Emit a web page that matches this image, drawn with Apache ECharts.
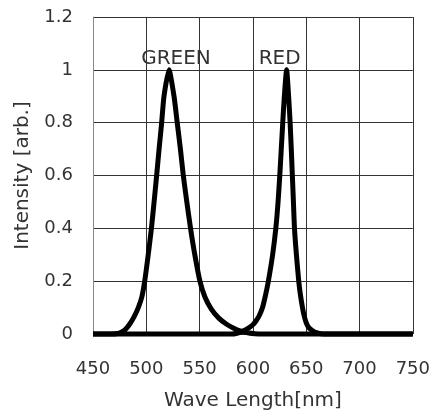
<!DOCTYPE html>
<html>
<head>
<meta charset="utf-8">
<script src="https://cdn.jsdelivr.net/npm/echarts@6/dist/echarts.min.js"></script>
<style>html,body{margin:0;padding:0;background:#fff;}#c{width:433px;height:416px;}</style>
</head>
<body>
<div id="c"></div>
<script>
// Wavelength (nm) and intensity values
var greenX = [450, 468, 473, 476, 480, 484, 488.5, 492.5, 495.8, 498.5, 501.8, 504.8, 507.3, 509.7, 512, 514.4, 516.6, 521.25, 526, 529, 532, 534.7, 538, 541.5, 545.5, 550.3, 555, 561, 568, 575, 582, 588, 595, 602, 610, 750];
var greenY = [0, 0, 0.002, 0.006, 0.016, 0.035, 0.065, 0.1, 0.14, 0.2, 0.3, 0.4, 0.5, 0.6, 0.7, 0.8, 0.9, 1.0, 0.9, 0.8, 0.7, 0.6, 0.5, 0.4, 0.3, 0.2, 0.14, 0.094, 0.06, 0.038, 0.022, 0.012, 0.005, 0.001, 0, 0];
var redX = [450, 580, 585, 590, 595, 600, 603, 606, 609, 612, 614.5, 618.5, 621.5, 623.6, 625.2, 626.6, 628, 629.5, 631.6, 633.5, 634.9, 636, 637, 638, 639, 640.8, 643, 644.5, 646.5, 648, 649.8, 651.5, 654, 658, 666, 750];
var redY = [0, 0, 0.003, 0.01, 0.02, 0.035, 0.05, 0.07, 0.1, 0.15, 0.2, 0.3, 0.4, 0.5, 0.6, 0.7, 0.8, 0.9, 1.0, 0.9, 0.8, 0.7, 0.6, 0.5, 0.4, 0.3, 0.2, 0.15, 0.1, 0.07, 0.045, 0.03, 0.018, 0.007, 0, 0];
var seriesNames = ['GREEN', 'RED'];
var xTicks = [450, 500, 550, 600, 650, 700, 750];
var yTicks = [0, 0.2, 0.4, 0.6, 0.8, 1, 1.2];
var xTitle = 'Wave Length[nm]';
var yTitle = 'Intensity [arb.]';

var FONT = 'DejaVu Sans';
var TXT = '#333';
function build(xs, ys, name, dx) {
  var peak = ys.indexOf(Math.max.apply(null, ys));
  return xs.map(function (x, i) {
    if (i === peak) {
      return {
        value: [x, ys[i]],
        symbol: 'circle', symbolSize: 1,
        label: { show: true, formatter: name, position: 'top', offset: [dx, 3],
          fontFamily: FONT, fontSize: 20, color: TXT, distance: 4 }
      };
    }
    return { value: [x, ys[i]], symbolSize: 0 };
  });
}

var chart = echarts.init(document.getElementById('c'), null, { renderer: 'canvas' });
chart.setOption({
  animation: false,
  backgroundColor: '#fff',
  grid: { left: 93, right: 20, top: 17, bottom: 81 },
  xAxis: {
    type: 'value', min: xTicks[0], max: xTicks[xTicks.length - 1], interval: 50,
    name: xTitle, nameLocation: 'middle', nameGap: 57,
    nameTextStyle: { fontFamily: FONT, fontSize: 20, color: TXT },
    axisLine: { show: false },
    axisTick: { show: false },
    axisLabel: { fontFamily: FONT, fontSize: 18, color: TXT, margin: 26 },
    splitLine: { show: true, showMinLine: false, lineStyle: { color: '#333', width: 1 } }
  },
  yAxis: {
    type: 'value', min: yTicks[0], max: yTicks[yTicks.length - 1], interval: 0.2,
    name: yTitle, nameLocation: 'middle', nameGap: 60,
    nameTextStyle: { fontFamily: FONT, fontSize: 20, color: TXT },
    axisLine: { show: true, lineStyle: { color: '#888', width: 1 } },
    axisTick: { show: false },
    axisLabel: { fontFamily: FONT, fontSize: 18, color: TXT, margin: 20 },
    splitLine: { show: true, lineStyle: { color: '#333', width: 1 } }
  },
  series: [
    { name: seriesNames[0], type: 'line', data: build(greenX, greenY, seriesNames[0], 7),
      showSymbol: true, symbol: 'circle', symbolSize: 0, smooth: 0.2, clip: false,
      itemStyle: { color: '#000' },
      lineStyle: { color: '#000', width: 5, join: 'round' } },
    { name: seriesNames[1], type: 'line', data: build(redX, redY, seriesNames[1], -7),
      showSymbol: true, symbol: 'circle', symbolSize: 0, smooth: 0.2, clip: false,
      itemStyle: { color: '#000' },
      lineStyle: { color: '#000', width: 5, join: 'round' } }
  ]
});
</script>
</body>
</html>
